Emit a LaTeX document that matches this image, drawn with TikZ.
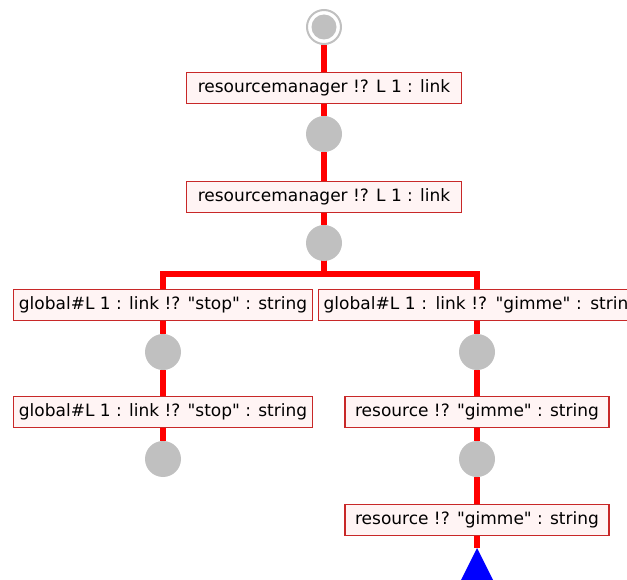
\documentclass[tikz,border=0pt]{standalone}
\usepackage{fontspec}
\setmainfont{DejaVu Sans}[Ligatures=TeXOff]
\usetikzlibrary{backgrounds}
\definecolor{wire}{RGB}{255,0,0}
\definecolor{boxline}{RGB}{200,40,40}
\definecolor{boxfill}{RGB}{255,244,244}
\definecolor{state}{RGB}{192,192,192}
\tikzset{
  msg/.style={draw=boxline, line width=1.3pt, fill=boxfill, rectangle,
    minimum height=31pt, inner sep=0pt, font=\fontsize{17}{19}\selectfont},
  statenode/.style={circle, fill=state, minimum size=36pt, inner sep=0pt},
  wirestyle/.style={wire, line width=6pt},
}
\begin{document}
\begin{tikzpicture}[x=1pt, y=-1pt]
  \useasboundingbox (0,0) rectangle (627,580);
  \clip (0,0) rectangle (627,580);

  % start state: grey disc inside a grey ring
  \node[circle, draw=state, line width=2pt, fill=white, minimum size=34pt, inner sep=0pt] (start) at (324,27) {};
  \fill[state] (start.center) circle (12.5pt);

  % main trunk
  \node[msg, minimum width=275pt] (b1) at (324,88) {resourcemanager !? L 1 : link};
  \node[statenode] (c2) at (324,134) {};
  \node[msg, minimum width=275pt] (b2) at (324,197) {resourcemanager !? L 1 : link};
  \node[statenode] (c3) at (324,243) {};
  \coordinate (fork) at (324,274);

  % left branch
  \node[msg, minimum width=299pt] (l1) at (163,305) {global\#L 1 : link !? "stop" : string};
  \node[statenode] (lc1) at (163,352) {};
  \node[msg, minimum width=299pt] (l2) at (163,412) {global\#L 1 : link !? "stop" : string};
  \node[statenode] (lc2) at (163,459) {};

  % right branch (runs past the right edge)
  \node[msg, minimum width=330pt, anchor=west, text width=320pt, align=left, inner xsep=5pt] (r1) at (318,305) {global\#L 1 : link !? "gimme" : string};
  \coordinate (rtop) at (477,305);
  \node[statenode] (rc1) at (477,352) {};
  \node[msg, minimum width=264pt] (r2) at (477,412) {resource !? "gimme" : string};
  \node[statenode] (rc2) at (477,459) {};
  \node[msg, minimum width=264pt] (r3) at (477,520) {resource !? "gimme" : string};
  \coordinate (tip) at (477,548);

  % blue end marker
  \fill[blue] (tip) -- (455,592) -- (499,592) -- cycle;

  \begin{scope}[on background layer]
    \draw[wirestyle] (start) -- (b1);
    \draw[wirestyle] (b1) -- (c2);
    \draw[wirestyle] (c2) -- (b2);
    \draw[wirestyle] (b2) -- (c3);
    \draw[wirestyle] (c3.center) -- (fork);
    \draw[wirestyle, line join=miter] (fork) -| (l1.center);
    \draw[wirestyle, line join=miter] (fork) -| (rtop);
    \draw[wirestyle] (l1) -- (lc1);
    \draw[wirestyle] (lc1) -- (l2);
    \draw[wirestyle] (l2) -- (lc2);
    \draw[wirestyle] (rtop) -- (rc1);
    \draw[wirestyle] (rc1) -- (r2);
    \draw[wirestyle] (r2) -- (rc2);
    \draw[wirestyle] (rc2) -- (r3);
    \draw[wirestyle] (r3) -- (tip);
  \end{scope}
\end{tikzpicture}
\end{document}
